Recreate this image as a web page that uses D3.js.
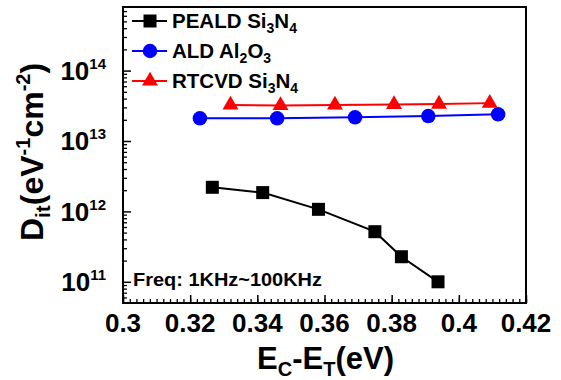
<!DOCTYPE html>
<html><head><meta charset="utf-8">
<script src="https://cdn.jsdelivr.net/npm/d3@7"></script>
<style>
body{margin:0;background:#fff}
text{font-family:"Liberation Sans",Arial,sans-serif;font-weight:bold;fill:#000}
</style>
</head><body>
<svg id="c" width="561" height="380"></svg>
<script>
// ---- data ----
const pealdX = [0.3266, 0.3416, 0.3582, 0.3750, 0.3829, 0.3938];
const pealdY = [2.2e12, 1.85e12, 1.07e12, 5.15e11, 2.27e11, 1.0e11];
const aldX   = [0.3229, 0.3459, 0.3691, 0.3909, 0.4117];
const aldY   = [2.1e13, 2.1e13, 2.17e13, 2.26e13, 2.39e13];
const rtX    = [0.3320, 0.3469, 0.3631, 0.3807, 0.3941, 0.4092];
const rtY    = [3.25e13, 3.2e13, 3.25e13, 3.3e13, 3.35e13, 3.45e13];
const xTicks = [0.3, 0.32, 0.34, 0.36, 0.38, 0.4, 0.42];
const xTickLabels = ["0.3", "0.32", "0.34", "0.36", "0.38", "0.4", "0.42"];
const yTicks = [1e11, 1e12, 1e13, 1e14];
const yTickExp = ["11", "12", "13", "14"];
const seriesNames = [["PEALD Si", "3", "N", "4"], ["ALD Al", "2", "O", "3"], ["RTCVD Si", "3", "N", "4"]];
const annotation = "Freq: 1KHz~100KHz";

const svg = d3.select("#c");
const L = 123, R = 526, T = 7, B = 303;
const x = d3.scaleLinear().domain([0.3, 0.42]).range([L, R]);
const y = d3.scaleLog().domain([5e10, 8e14]).range([B, T]);

// minor ticks
const xMinor = d3.range(0, 61).map(i => 0.3 + i * 0.002);
svg.append("g").attr("transform", `translate(0,${B})`)
  .call(d3.axisBottom(x).tickValues(xMinor).tickSize(-4).tickFormat(""))
  .call(g => g.select(".domain").remove())
  .selectAll("line").attr("stroke", "#000").attr("stroke-width", 1.3);
svg.append("g").attr("transform", `translate(0,${B})`)
  .call(d3.axisBottom(x).tickValues(xTicks).tickSize(-8).tickFormat(""))
  .call(g => g.select(".domain").remove())
  .selectAll("line").attr("stroke", "#000").attr("stroke-width", 1.5);

const yMinor = [];
for (let e = 10; e <= 14; e++) for (let m = 2; m <= 9; m++) { const v = m * Math.pow(10, e); if (v > 5e10 && v < 8e14) yMinor.push(v); }
svg.append("g").attr("transform", `translate(${L},0)`)
  .call(d3.axisLeft(y).tickValues(yMinor).tickSize(-4).tickFormat(""))
  .call(g => g.select(".domain").remove())
  .selectAll("line").attr("stroke", "#000").attr("stroke-width", 1.3);
svg.append("g").attr("transform", `translate(${L},0)`)
  .call(d3.axisLeft(y).tickValues(yTicks).tickSize(-8).tickFormat(""))
  .call(g => g.select(".domain").remove())
  .selectAll("line").attr("stroke", "#000").attr("stroke-width", 1.5);

// frame
svg.append("rect").attr("x", L).attr("y", T).attr("width", R - L).attr("height", B - T)
  .attr("fill", "none").attr("stroke", "#000").attr("stroke-width", 2);

// x tick labels
svg.append("g").selectAll("text").data(xTicks).join("text")
  .attr("x", d => x(d)).attr("y", 332).attr("text-anchor", "middle")
  .attr("font-size", 26).text((d, i) => xTickLabels[i]);

// y tick labels
const yl = svg.append("g").selectAll("text").data(yTicks).join("text")
  .attr("x", 106).attr("y", d => y(d) + 9.5).attr("text-anchor", "end").attr("font-size", 26);
yl.append("tspan").text("10");
yl.append("tspan").attr("font-size", 15).attr("dy", -11).text((d, i) => yTickExp[i]);

// axis titles
const xt = svg.append("text").attr("x", (L + R) / 2 + 1).attr("y", 369).attr("text-anchor", "middle").attr("font-size", 31);
xt.append("tspan").text("E");
xt.append("tspan").attr("font-size", 20).attr("dy", 7).text("C");
xt.append("tspan").attr("dy", -7).text("-E");
xt.append("tspan").attr("font-size", 20).attr("dy", 7).text("T");
xt.append("tspan").attr("dy", -7).text("(eV)");

const yt = svg.append("text").attr("transform", `translate(43,152) rotate(-90)`).attr("text-anchor", "middle").attr("font-size", 32);
yt.append("tspan").text("D");
yt.append("tspan").attr("font-size", 21).attr("dy", 7).text("it");
yt.append("tspan").attr("dy", -7).text("(eV");
yt.append("tspan").attr("font-size", 20).attr("dy", -13).text("-1");
yt.append("tspan").attr("dy", 13).text("cm");
yt.append("tspan").attr("font-size", 20).attr("dy", -13).text("-2");
yt.append("tspan").attr("dy", 13).text(")");

// series
const series = [
  {xs: pealdX, ys: pealdY, color: "#000", sym: d3.symbolSquare, size: 169},
  {xs: aldX, ys: aldY, color: "#0000FF", sym: d3.symbolCircle, size: 165},
  {xs: rtX, ys: rtY, color: "#FF0000", sym: d3.symbolTriangle, size: 110}
];
const line = d3.line().x(d => x(d[0])).y(d => y(d[1]));
series.forEach(s => {
  const pts = s.xs.map((v, i) => [v, s.ys[i]]);
  svg.append("path").attr("d", line(pts)).attr("fill", "none").attr("stroke", s.color).attr("stroke-width", 2);
  svg.append("g").selectAll("path").data(pts).join("path")
    .attr("transform", d => `translate(${x(d[0])},${y(d[1])})`)
    .attr("d", d3.symbol(s.sym, s.size)()).attr("fill", s.color);
});

// legend
series.forEach((s, i) => {
  const cy = 21 + i * 30;
  svg.append("line").attr("x1", 132).attr("x2", 167).attr("y1", cy).attr("y2", cy).attr("stroke", s.color).attr("stroke-width", 2);
  svg.append("path").attr("transform", `translate(150,${cy})`).attr("d", d3.symbol(s.sym, s.size)()).attr("fill", s.color);
  const t = svg.append("text").attr("x", 172).attr("y", cy + 6.5).attr("font-size", 20.5);
  const n = seriesNames[i];
  t.append("tspan").text(n[0]);
  t.append("tspan").attr("font-size", 14).attr("dy", 5).text(n[1]);
  t.append("tspan").attr("dy", -5).text(n[2]);
  t.append("tspan").attr("font-size", 14).attr("dy", 5).text(n[3]);
});

// annotation
svg.append("text").attr("x", 133).attr("y", 286).attr("font-size", 19)
  .attr("font-family", "Lato, 'Open Sans', sans-serif").attr("textLength", 189)
  .attr("lengthAdjust", "spacingAndGlyphs").text(annotation);
</script>
</body></html>
